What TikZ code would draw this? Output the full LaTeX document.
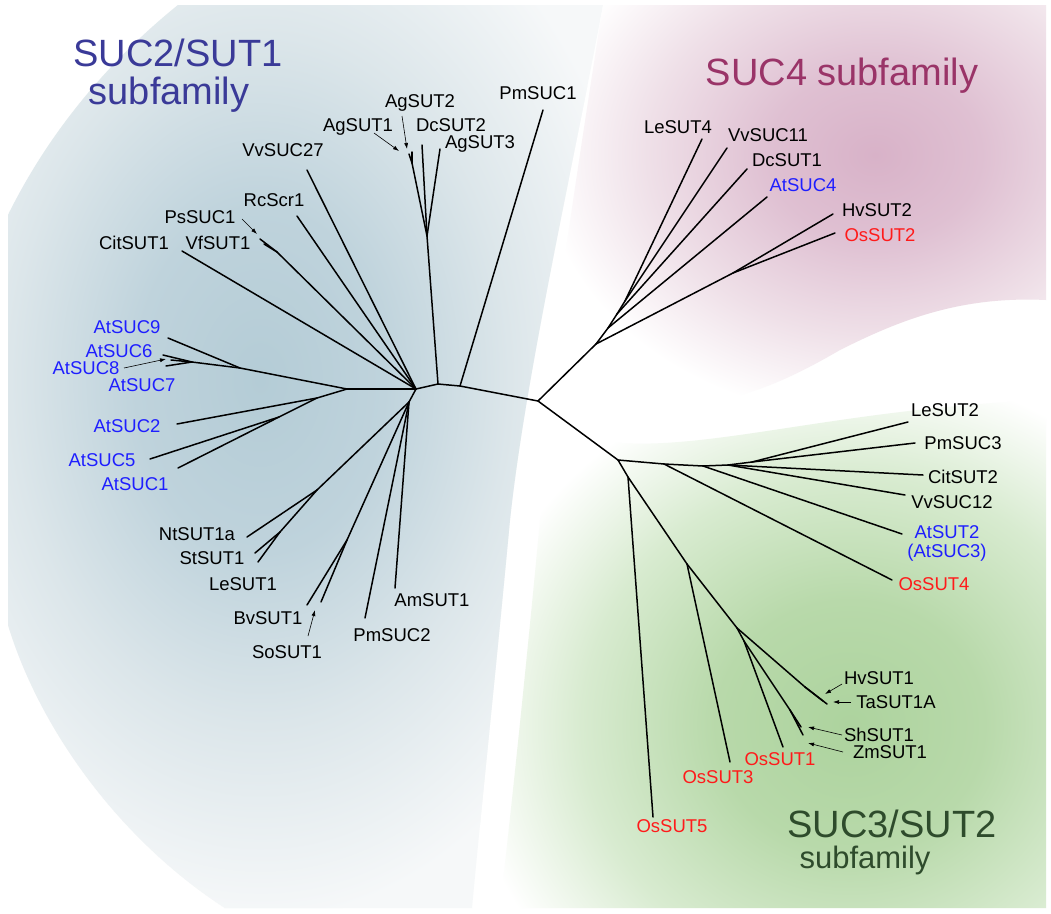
\documentclass[tikz,border=0pt]{standalone}
\usepackage{fontspec}
\setmainfont{Liberation Sans}
\usetikzlibrary{arrows.meta}

\definecolor{labblue}{HTML}{1E1EFF}
\definecolor{labred}{HTML}{FF1A1A}
\definecolor{ttlblue}{HTML}{3A3A98}
\definecolor{ttlpink}{HTML}{9A3468}
\definecolor{ttlgreen}{HTML}{2E4B2C}
\definecolor{bgL0}{HTML}{B4CCD6}
\definecolor{bgL1}{HTML}{BFD3DC}
\definecolor{bgL2}{HTML}{DCE6EA}
\definecolor{bgL3}{HTML}{F6F8F9}
\definecolor{pink0}{HTML}{D8B2C8}
\definecolor{pink1}{HTML}{DFC0D2}
\definecolor{pink2}{HTML}{EFE0E8}
\definecolor{green0}{HTML}{ADD39E}
\definecolor{green1}{HTML}{B8D9AA}
\definecolor{green2}{HTML}{D8EBD0}

\pgfdeclareradialshading{glowleft}{\pgfpoint{0bp}{0bp}}{color(0bp)=(bgL0); color(8bp)=(bgL1); color(16bp)=(bgL2); color(25bp)=(bgL3); color(50bp)=(bgL3)}
\pgfdeclareradialshading{glowpink}{\pgfpoint{0bp}{0bp}}{color(0bp)=(pink0); color(7bp)=(pink1); color(15bp)=(pink2); color(22bp)=(white); color(50bp)=(white)}
\pgfdeclareradialshading{glowgreen}{\pgfpoint{0bp}{0bp}}{color(0bp)=(green0); color(8bp)=(green1); color(16bp)=(green2); color(23bp)=(white); color(50bp)=(white)}

\begin{document}
\begin{tikzpicture}[x=1pt,y=-1pt,
  branch/.style={line width=1.5pt,line cap=round,line join=round},
  leaf/.style={font=\fontsize{18.5}{20}\selectfont,inner sep=0pt,text height=13pt,text depth=0pt},
  pointer/.style={line width=0.6pt,-{Latex[length=6pt,width=4pt]}},
  family/.style={font=\fontsize{38}{40}\selectfont,inner sep=0pt,anchor=base}]

\useasboundingbox (0,0) rectangle (1051,913);
\fill[white] (0,0) rectangle (1051,913);

\begin{scope}
  \clip (178,5) -- (603,5) .. controls (570,180) and (525,380) .. (510,520)
    .. controls (495,680) and (480,820) .. (472,908) -- (225,908)
    .. controls (120,840) and (40,730) .. (8,625) -- (8,215)
    .. controls (50,130) and (110,60) .. (178,5) -- cycle;
  \fill[bgL3] (0,0) rectangle (1051,913);
  \shade[shading=glowleft] (260,380) ellipse [x radius=390pt,y radius=540pt];
\end{scope}
\begin{scope}
  \clip (603,5) -- (1046,5) -- (1046,300) .. controls (960,296) and (900,320) .. (840,350)
    .. controls (780,385) and (730,405) .. (670,405) -- (545,400)
    .. controls (565,250) and (585,120) .. (603,5) -- cycle;
  \shade[shading=glowpink] (875,155) ellipse [x radius=380pt,y radius=300pt];
\end{scope}
\begin{scope}
  \clip (500,908) .. controls (510,820) and (525,680) .. (540,520) -- (560,430)
    .. controls (660,470) and (800,410) .. (1046,400) -- (1046,908) -- cycle;
  \shade[shading=glowgreen] (850,725) ellipse [x radius=420pt,y radius=390pt];
\end{scope}

\node[family,text=ttlblue] (T1a) at (178,66) {SUC2/SUT1};
\node[family,text=ttlblue] (T1b) at (169,104) {subfamily};
\node[family,text=ttlpink] (T2) at (842,85) {SUC4 subfamily};
\node[family,text=ttlgreen] (T3a) at (892,837) {SUC3/SUT2};
\node[family,text=ttlgreen,font=\fontsize{31}{33}\selectfont] (T3b) at (865,868) {subfamily};

\foreach \nm/\px/\py in {C0/538/401,N1/460/386,N2/438/384,N3/416/389,N4/347/389,
  N5/409/402,N6/240/368,N7/192/362,N8/317/398,N9/279/417,N10/317/490,N11/280/532,
  N12/347/540,N13/277/252,N14/427/236,N15/412/163,
  P0/596/344,P1/608/328,P2/617/314,P3/625/301,P4/733/273,
  G0/618/460,G1/664/464,G2/703/466,G3/728/465,G4/752/462,G5/628/477,
  G6/687/564,G7/737/628,G8/744/641,G9/790/710,G10/805/687}
  \coordinate (\nm) at (\px,\py);

\foreach \nm/\tx/\ty/\lx/\ly/\col in {
  VvSUC27/307/170/283/150/black, RcScr1/297/216/274/200/black,
  PsSUC1/260/239/200/217/black, VfSUT1/264/244/218/243/black,
  CitSUT1/182/251/134/243/black, AgSUT1/409/154/358/125/black,
  AgSUT2/412/152/420/101/black, DcSUT2/422/145/451/125/black,
  AgSUT3/440/149/480/142/black, PmSUC1/543/110/538/93/black,
  AtSUC9/168/338/127/327/labblue, AtSUC6/163/355/119/351/labblue,
  AtSUC8/171/360/86/368/labblue, AtSUC7/166/366/142/385/labblue,
  AtSUC2/177/424/127/426/labblue, AtSUC5/150/459/102/460/labblue,
  AtSUC1/178/468/135/484/labblue, NtSUT1a/247/537/197/534/black,
  StSUT1/255/553/212/558/black, LeSUT1/258/562/243/584/black,
  BvSUT1/307/605/268/618/black, SoSUT1/321/602/287/652/black,
  PmSUC2/365/618/392/635/black, AmSUT1/395/588/432/600/black,
  LeSUT4/702/139/678/127/black, VvSUC11/727/148/768/135/black,
  DcSUT1/747/169/787/160/black, AtSUC4/767/197/803/185/labblue,
  HvSUT2/833/214/877/210/black, OsSUT2/835/233/880/235/labred,
  LeSUT2/908/422/945/410/black, PmSUC3/915/443/963/443/black,
  CitSUT2/923/475/963/477/black, VvSUC12/905/495/952/502/black,
  OsSUT4/892/580/934/584/labred, OsSUT5/653/817/672/826/labred,
  OsSUT3/730/762/718/777/labred, OsSUT1/783/747/780/759/labred,
  ShSUT1/801/727/879/735/black, ZmSUT1/803/735/890/752/black,
  HvSUT1/823/701/879/678/black, TaSUT1A/827/704/896/702/black}
  {
  \coordinate (t\nm) at (\tx,\ty);
  \node[leaf,text=\col] (L\nm) at (\lx,\ly) {\nm};
  }
\coordinate (tAtSUT2) at (902,534);
\node[font=\fontsize{18.5}{19}\selectfont,inner sep=0pt,align=center,text=labblue] (LAtSUT2) at (947,543) {AtSUT2\\(AtSUC3)};

\foreach \a/\b in {C0/N1,N1/N2,N2/N3,N3/N4,N3/N5,C0/P0,C0/G0,N1/tPmSUC1,
  N2/N14,N14/N15,N15/tAgSUT1,N15/tAgSUT2,N14/tDcSUT2,N14/tAgSUT3,
  N3/tVvSUC27,N3/tRcScr1,N3/N13,N13/tPsSUC1,N13/tVfSUT1,N3/tCitSUT1,
  N4/N6,N6/tAtSUC9,N6/N7,N7/tAtSUC6,N7/tAtSUC8,N7/tAtSUC7,
  N4/N8,N8/tAtSUC2,N8/N9,N9/tAtSUC5,N9/tAtSUC1,
  N5/N10,N10/tNtSUT1a,N10/N11,N11/tStSUT1,N11/tLeSUT1,
  N5/N12,N12/tBvSUT1,N12/tSoSUT1,N5/tPmSUC2,N5/tAmSUT1,
  P0/P1,P1/P2,P2/P3,P3/tLeSUT4,P3/tVvSUC11,P2/tDcSUT1,P1/tAtSUC4,
  P0/P4,P4/tHvSUT2,P4/tOsSUT2,
  G0/G1,G1/tOsSUT4,G1/G2,G2/tAtSUT2,G2/G3,G3/tVvSUC12,G3/tCitSUT2,
  G3/G4,G4/tLeSUT2,G4/tPmSUC3,
  G0/G5,G5/tOsSUT5,G5/G6,G6/tOsSUT3,G6/G7,G7/G10,G10/tHvSUT1,G10/tTaSUT1A,
  G7/G8,G8/tOsSUT1,G8/G9,G9/tShSUT1,G9/tZmSUT1}
  \draw[branch] (\a) -- (\b);

\foreach \nm/\sx/\sy/\ex/\ey in {AgSUT1/374/133/399/151, AgSUT2/402/116/407/149,
  PsSUC1/242/219/257/234, AtSUC8/124/368/166/359, SoSUT1/308/636/315/610,
  HvSUT1/842/684/825/694, TaSUT1A/851/702/833/702,
  ShSUT1/842/735/808/727, ZmSUT1/843/752/808/743}
  {
  \coordinate (s\nm) at (\sx,\sy);
  \coordinate (e\nm) at (\ex,\ey);
  \draw[pointer] (s\nm) -- (e\nm);
  }
\end{tikzpicture}
\end{document}
